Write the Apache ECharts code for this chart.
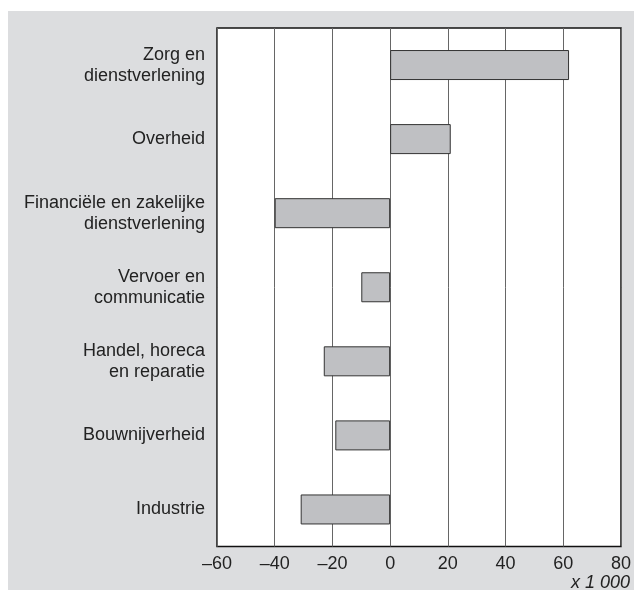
<!DOCTYPE html>
<html>
<head>
<meta charset="utf-8">
<script src="https://cdn.jsdelivr.net/npm/echarts@6/dist/echarts.min.js"></script>
<style>html,body{margin:0;padding:0;background:#fff}#c{width:634px;height:590px}</style>
</head>
<body>
<div id="c"></div>
<script>
const categories = [
  "Zorg en\ndienstverlening",
  "Overheid",
  "Financiële en zakelijke\ndienstverlening",
  "Vervoer en\ncommunicatie",
  "Handel, horeca\nen reparatie",
  "Bouwnijverheid",
  "Industrie"
];
const values = [62, 21, -40, -10, -23, -19, -31];
const unitLabel = "x 1 000";

const chart = echarts.init(document.getElementById('c'), null, {renderer: 'canvas'});
chart.setOption({
  animation: false,
  backgroundColor: '#fff',
  textStyle: {fontFamily: 'Liberation Sans, Arial, sans-serif'},
  graphic: [
    {type: 'rect', z: -10, silent: true, shape: {x: 8, y: 11, width: 634, height: 590}, style: {fill: '#dcdddf'}},
    {type: 'text', right: 4, top: 574, style: {text: unitLabel, fontSize: 18, fontStyle: 'italic', fill: '#222', fontFamily: 'Liberation Sans, Arial, sans-serif'}}
  ],
  grid: {left: 217, right: 12.5, top: 28, bottom: 43.5, show: true, backgroundColor: '#fff', borderColor: '#111', borderWidth: 1.5, containLabel: false},
  xAxis: {
    type: 'value', min: -60, max: 80, interval: 20,
    axisLine: {show: false}, axisTick: {show: false},
    splitLine: {show: true, lineStyle: {color: '#666', width: 1}},
    axisLabel: {fontSize: 18, color: '#222', margin: 9, formatter: v => String(v).replace('-', '\u2013')}
  },
  yAxis: {
    type: 'category', data: categories, inverse: true,
    axisLine: {show: false}, axisTick: {show: false}, splitLine: {show: false},
    axisLabel: {fontSize: 18, lineHeight: 21, color: '#222', margin: 12, align: 'right', padding: [2, 0, 0, 0]}
  },
  series: [{
    type: 'bar', data: values, barWidth: 30,
    itemStyle: {color: '#bfc0c3', borderColor: '#333', borderWidth: 1}
  }]
});
</script>
</body>
</html>
